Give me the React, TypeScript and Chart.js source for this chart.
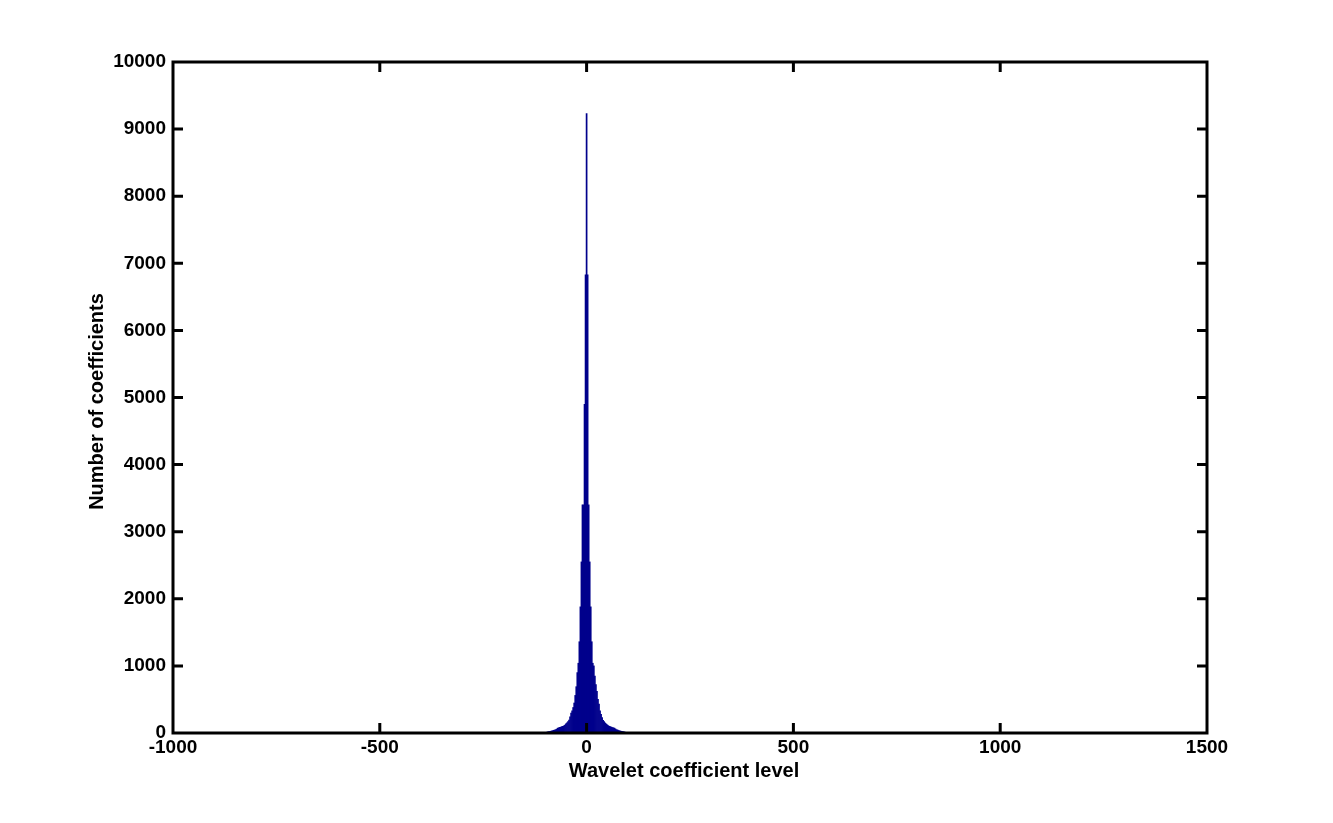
import React, { useEffect, useRef } from "react";
import { Chart, registerables } from "chart.js";

Chart.register(...registerables);

// Histogram bin centres (wavelet coefficient level)
const binCenters = [
  -95, -92.5, -90, -87.5, -85, -82.5, -80, -77.5, -75, -72.5,
  -70, -67.5, -65, -62.5, -60, -57.5, -55, -52.5, -50, -47.5,
  -45, -42.5, -40, -37.5, -35, -32.5, -30, -27.5, -25, -22.5,
  -20, -17.5, -15, -12.5, -10, -7.5, -5, -2.5, 0,
  2.5, 5, 7.5, 10, 12.5, 15, 17.5, 20, 22.5, 25,
  27.5, 30, 32.5, 35, 37.5, 40, 42.5, 45, 47.5, 50,
  52.5, 55, 57.5, 60, 62.5, 65, 67.5, 70, 72.5, 75,
  77.5, 80, 82.5, 85, 87.5, 90, 92.5,
];

// Number of coefficients in each bin
const counts = [
  15, 20, 22, 25, 30, 34, 40, 44, 50, 58,
  72, 78, 84, 88, 95, 100, 108, 119, 135, 150,
  170, 194, 240, 298, 330, 380, 447, 560, 690, 900,
  1040, 1360, 1880, 2550, 3400, 3400, 4900, 6830, 9230,
  6830, 3400, 2550, 1880, 1360, 1040, 1000, 850, 720, 620,
  500, 430, 330, 280, 230, 190, 170, 150, 135, 122,
  110, 100, 95, 88, 82, 78, 72, 60, 50, 45,
  38, 33, 28, 25, 22, 18, 15,
];

const xTicks = [-1000, -500, 0, 500, 1000, 1500];
const yTicks = [0, 1000, 2000, 3000, 4000, 5000, 6000, 7000, 8000, 9000, 10000];
const xLabel = "Wavelet coefficient level";
const yLabel = "Number of coefficients";

const FONT = "'Liberation Sans', Arial, Helvetica, sans-serif";
const TICK_SIZE = 19;
const TITLE_SIZE = 20;
const BAR_COLOR = "rgb(0,0,140)";

const framePlugin = {
  id: "matlabFrame",
  afterDraw(chart: any) {
    const { ctx, chartArea: a, scales } = chart;
    ctx.save();
    ctx.strokeStyle = "#000";
    ctx.lineWidth = 3;
    ctx.strokeRect(a.left, a.top, a.right - a.left, a.bottom - a.top);
    const tl = 10;
    ctx.beginPath();
    for (const v of xTicks) {
      const px = scales.x.getPixelForValue(v);
      if (px <= a.left + 2 || px >= a.right - 2) continue;
      ctx.moveTo(px, a.bottom);
      ctx.lineTo(px, a.bottom - tl);
      ctx.moveTo(px, a.top);
      ctx.lineTo(px, a.top + tl);
    }
    for (const v of yTicks) {
      const py = scales.y.getPixelForValue(v);
      if (py <= a.top + 2 || py >= a.bottom - 2) continue;
      ctx.moveTo(a.left, py);
      ctx.lineTo(a.left + tl, py);
      ctx.moveTo(a.right, py);
      ctx.lineTo(a.right - tl, py);
    }
    ctx.stroke();

    ctx.fillStyle = "#000";
    ctx.font = `bold ${TITLE_SIZE}px ${FONT}`;
    ctx.textAlign = "center";
    ctx.textBaseline = "middle";
    ctx.fillText(xLabel, (a.left + a.right) / 2 - 6, a.bottom + 38);
    ctx.translate(a.left - 76, (a.top + a.bottom) / 2 + 4);
    ctx.rotate(-Math.PI / 2);
    ctx.fillText(yLabel, 0, 0);
    ctx.restore();
  },
};

export default function App() {
  const canvasRef = useRef<HTMLCanvasElement | null>(null);

  useEffect(() => {
    const canvas = canvasRef.current;
    if (!canvas) return;
    const tickFont = { family: FONT, size: TICK_SIZE, weight: "bold" as const };
    const chart = new Chart(canvas, {
      type: "bar",
      data: {
        datasets: [
          {
            data: binCenters.map((x, i) => ({ x, y: counts[i] })),
            backgroundColor: BAR_COLOR,
            borderColor: BAR_COLOR,
            borderWidth: 0,
            barPercentage: 1,
            categoryPercentage: 1,
          },
        ],
      },
      options: {
        animation: false,
        responsive: true,
        maintainAspectRatio: false,
        layout: { padding: { top: 62, right: 126, left: 0, bottom: 0 } },
        plugins: { legend: { display: false }, tooltip: { enabled: false } },
        scales: {
          x: {
            type: "linear",
            offset: false,
            min: -1000,
            max: 1500,
            grid: { display: false, drawTicks: false, offset: false },
            border: { display: false },
            afterBuildTicks: (s: any) => {
              s.ticks = xTicks.map((value) => ({ value }));
            },
            afterFit: (s: any) => {
              s.height = 90;
            },
            ticks: {
              autoSkip: false,
              maxRotation: 0,
              padding: 3,
              color: "#000",
              font: tickFont,
              callback: (v: any) => String(v),
            },
          },
          y: {
            type: "linear",
            min: 0,
            max: 10000,
            grid: { display: false, drawTicks: false },
            border: { display: false },
            afterBuildTicks: (s: any) => {
              s.ticks = yTicks.map((value) => ({ value }));
            },
            afterFit: (s: any) => {
              s.width = 173;
            },
            ticks: {
              autoSkip: false,
              padding: 7,
              color: "#000",
              font: tickFont,
              callback: (v: any) => String(v),
            },
          },
        },
      },
      plugins: [framePlugin],
    });
    return () => chart.destroy();
  }, []);

  return (
    <div style={{ position: "fixed", left: 0, top: 0, width: 1333, height: 823, background: "#fff" }}>
      <canvas ref={canvasRef} />
    </div>
  );
}
